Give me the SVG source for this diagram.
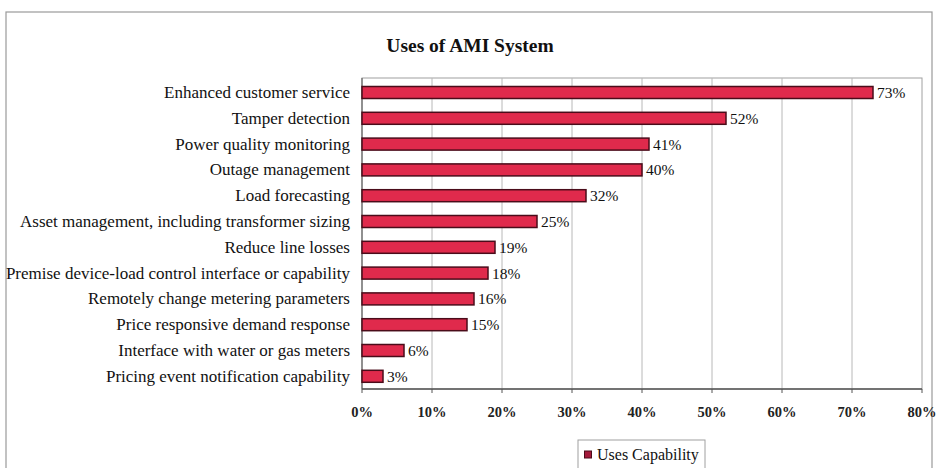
<svg xmlns="http://www.w3.org/2000/svg" width="937" height="468" viewBox="0 0 937 468">
<style>
.lbl{font-family:"Liberation Serif",serif;font-size:17px;fill:#111;text-anchor:end}
.val{font-family:"Liberation Serif",serif;font-size:15.5px;fill:#111}
.tick{font-family:"Liberation Serif",serif;font-size:14.5px;font-weight:bold;fill:#222;text-anchor:middle}
.bar{fill:#e02a4c;stroke:#4a0c1a;stroke-width:1.5}
.grid{stroke:#b8b8b8;stroke-width:1}
</style>
<rect x="0" y="0" width="937" height="468" fill="#fff"/>
<rect x="6" y="12" width="926" height="470" fill="none" stroke="#9a9a9a" stroke-width="1.2"/>
<text x="470" y="52" font-family="Liberation Serif, serif" font-size="19.5" font-weight="bold" text-anchor="middle" fill="#111">Uses of AMI System</text>
<g id="plot">
<rect x="362" y="78" width="560" height="311" fill="none" stroke="#a0a0a0" stroke-width="1"/>
<line class="grid" x1="432" y1="78" x2="432" y2="389"/>
<line class="grid" x1="502" y1="78" x2="502" y2="389"/>
<line class="grid" x1="572" y1="78" x2="572" y2="389"/>
<line class="grid" x1="642" y1="78" x2="642" y2="389"/>
<line class="grid" x1="712" y1="78" x2="712" y2="389"/>
<line class="grid" x1="782" y1="78" x2="782" y2="389"/>
<line class="grid" x1="852" y1="78" x2="852" y2="389"/>
<line x1="362" y1="78" x2="362" y2="389" stroke="#666" stroke-width="1.2"/>
<line x1="362" y1="389" x2="922" y2="389" stroke="#555" stroke-width="1.5"/>
<path d="M362 389v4M432 389v4M502 389v4M572 389v4M642 389v4M712 389v4M782 389v4M852 389v4M922 389v4" stroke="#555" stroke-width="1"/>
</g>
<g id="ticks">
<text class="tick" x="362" y="417">0%</text>
<text class="tick" x="432" y="417">10%</text>
<text class="tick" x="502" y="417">20%</text>
<text class="tick" x="572" y="417">30%</text>
<text class="tick" x="642" y="417">40%</text>
<text class="tick" x="712" y="417">50%</text>
<text class="tick" x="782" y="417">60%</text>
<text class="tick" x="852" y="417">70%</text>
<text class="tick" x="922" y="417">80%</text>
</g>
<g id="bar1"><rect class="bar" x="362" y="86.5" width="511" height="12"/><text class="lbl" x="350" y="98">Enhanced customer service</text><text class="val" x="877" y="98">73%</text></g>
<g id="bar2"><rect class="bar" x="362" y="112.3" width="364" height="12"/><text class="lbl" x="350" y="123.8">Tamper detection</text><text class="val" x="730" y="123.8">52%</text></g>
<g id="bar3"><rect class="bar" x="362" y="138.1" width="287" height="12"/><text class="lbl" x="350" y="149.6">Power quality monitoring</text><text class="val" x="653" y="149.6">41%</text></g>
<g id="bar4"><rect class="bar" x="362" y="163.9" width="280" height="12"/><text class="lbl" x="350" y="175.4">Outage management</text><text class="val" x="646" y="175.4">40%</text></g>
<g id="bar5"><rect class="bar" x="362" y="189.7" width="224" height="12"/><text class="lbl" x="350" y="201.2">Load forecasting</text><text class="val" x="590" y="201.2">32%</text></g>
<g id="bar6"><rect class="bar" x="362" y="215.5" width="175" height="12"/><text class="lbl" x="350" y="227">Asset management, including transformer sizing</text><text class="val" x="541" y="227">25%</text></g>
<g id="bar7"><rect class="bar" x="362" y="241.3" width="133" height="12"/><text class="lbl" x="350" y="252.8">Reduce line losses</text><text class="val" x="499" y="252.8">19%</text></g>
<g id="bar8"><rect class="bar" x="362" y="267.1" width="126" height="12"/><text class="lbl" x="350" y="278.6">Premise device-load control interface or capability</text><text class="val" x="492" y="278.6">18%</text></g>
<g id="bar9"><rect class="bar" x="362" y="292.9" width="112" height="12"/><text class="lbl" x="350" y="304.4">Remotely change metering parameters</text><text class="val" x="478" y="304.4">16%</text></g>
<g id="bar10"><rect class="bar" x="362" y="318.7" width="105" height="12"/><text class="lbl" x="350" y="330.2">Price responsive demand response</text><text class="val" x="471" y="330.2">15%</text></g>
<g id="bar11"><rect class="bar" x="362" y="344.5" width="42" height="12"/><text class="lbl" x="350" y="356">Interface with water or gas meters</text><text class="val" x="408" y="356">6%</text></g>
<g id="bar12"><rect class="bar" x="362" y="370.3" width="21" height="12"/><text class="lbl" x="350" y="381.8">Pricing event notification capability</text><text class="val" x="387" y="381.8">3%</text></g>
<g id="legend">
<rect x="578" y="440" width="127" height="30" fill="#fff" stroke="#a0a0a0" stroke-width="1"/>
<rect x="584.5" y="451" width="7" height="7" fill="#a3193a" stroke="#4a0c1a" stroke-width="1"/>
<text x="597" y="460" font-family="Liberation Serif, serif" font-size="16" fill="#111">Uses Capability</text>
</g>
</svg>
